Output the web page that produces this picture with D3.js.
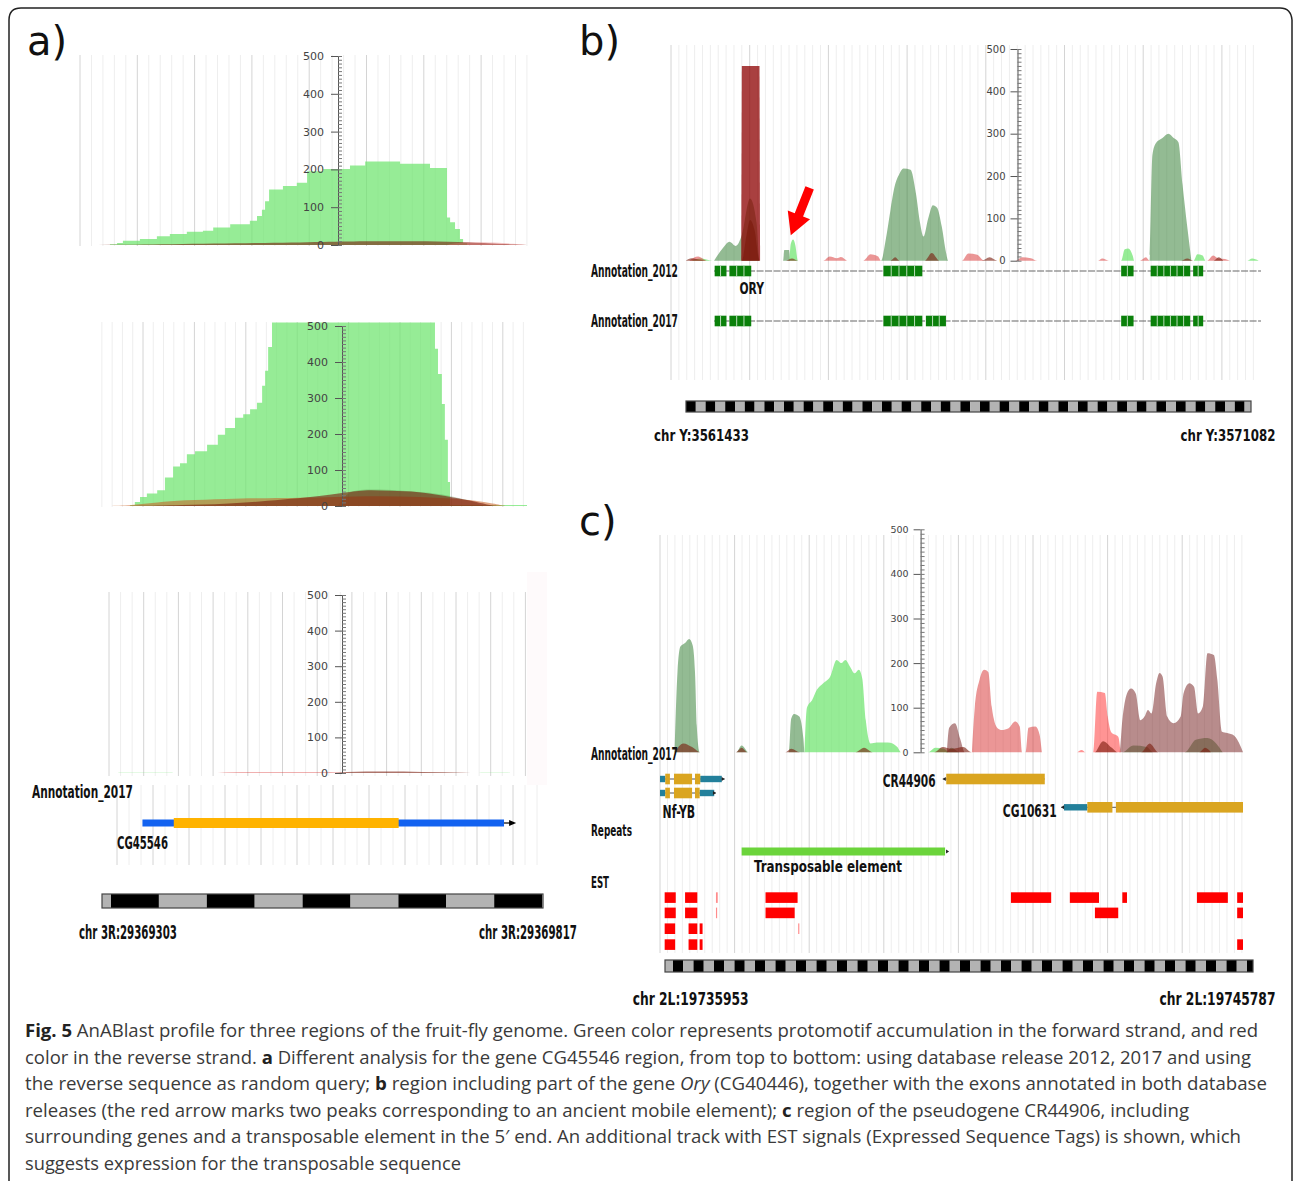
<!DOCTYPE html>
<html>
<head>
<meta charset="utf-8">
<script src="https://cdn.jsdelivr.net/npm/d3@7"></script>
<style>
  body { margin: 0; background: #fff; }
  svg { display: block; }
</style>
</head>
<body>
<svg id="fig" width="1293" height="1181"></svg>
<script>
// ---- data: positions are % along each track, values are protomotif counts ----

// panel a, top (release 2012)
const a1Green = [[0,0],[6.7,2],[8.3,5],[9.6,11],[13.4,16],[17.2,23],[20.1,29],[23.9,35],[27.5,38],[29.8,46],[33.6,55],[38.0,64],[39.6,77],[40.7,93],[41.4,116],[42.3,147],[45.4,156],[48.5,165],[50.8,195],[54.4,201],[60.4,210],[63.8,221],[71.6,215],[78.3,204],[82.1,73],[82.8,60],[83.9,42],[85.0,16],[85.7,5],[86.6,0],[100,0]]
const a1Brown = [[4,0],[20,2],[40,5],[55,8],[65,10],[75,10],[85,8],[92,4],[100,0]]
const a1Pink = [[82,0],[85,8],[93,7],[97,3],[100,0]]

// panel a, middle (release 2017)
const a2Green = [[0,0],[7.7,3],[8.8,11],[10.0,25],[11.6,35],[14.0,44],[15.8,79],[17.7,110],[19.3,119],[20.9,144],[22.8,152],[25.6,170],[28.1,198],[29.8,217],[32.1,245],[34.0,255],[35.6,269],[37.2,287],[38.4,334],[39.1,376],[39.8,442],[40.7,510],[78.6,437],[79.3,367],[80.2,283],[80.9,184],[81.6,67],[82.1,3],[100,0]]
const a2Orange = [[2,0],[8,2],[14,10],[20,16],[30,20],[40,22],[47,23],[55,25],[65,28],[75,26],[85,20],[92,8],[95,0]]
const a2Brown = [[8,0],[20,3],[30,6],[38,12],[45,20],[52,28],[57,36],[62,45],[68,42],[75,40],[81,28],[87,15],[91,3],[93,0]]
const a2DarkGreen = [[56,0],[58,38],[62,48],[70,44],[80,35],[86,18],[90,0]]

// panel a, bottom (reverse sequence)
const a3Green = [[2,0],[3,1],[15,1],[16,0],[88,0],[89,1],[95,1],[96,0]]
const a3Red = [[26,0],[28,1.5],[50,2],[56,1],[58,0]]
const a3Brown = [[54,0],[57,3],[66,4],[75,3],[85,1],[88,0]]

// panel a gene CG45546
const aGeneUTR = [8.0, 94.5]
const aGeneCDS = [15.5, 69.3]
const aGeneArrowEnd = 97.4

// panel b profile
const bDarkGreen = [[7.3,0],[8.8,30],[9.9,45],[11.0,35],[12.0,60],[13.4,147],[14.5,90],[15.0,0],[19.0,0],[19.2,25],[20.0,25],[20.2,0],[35.6,0],[36.4,50],[37.2,120],[37.9,175],[38.7,205],[39.4,218],[40.6,215],[41.5,160],[42.2,90],[42.8,57],[43.6,100],[44.4,131],[45.1,125],[45.9,80],[46.6,20],[47.0,0],[81.1,0],[81.6,250],[82.2,278],[83.3,290],[84.3,300],[85.2,290],[86.0,280],[86.7,180],[87.5,80],[88.2,0]]
const bLightGreen = [[3.5,0],[5,5],[7,0],[20.0,0],[20.3,40],[20.7,50],[21.1,35],[21.5,0],[76.3,0],[76.9,27],[77.5,29],[78.3,10],[78.5,0],[88.6,0],[89.2,15],[90.1,12],[90.6,0],[97.7,0],[98.5,5],[99.6,0]]
const bBar = [[11.9,0],[12.0,460],[15.0,460],[15.1,0]]
const bRed = [[3.1,0],[4.6,10],[6.1,0],[25.8,0],[26.9,10],[28.1,6],[28.8,9],[30.0,0],[32.6,0],[33.8,15],[35.1,10],[35.6,0],[49.3,0],[50.4,17],[51.9,14],[53.1,0],[58.4,0],[59.5,8],[61.0,6],[62.1,0],[72.4,0],[73.1,5],[74.2,0],[79.5,0],[80.5,8],[81.1,0],[90.9,0],[91.9,12],[92.8,5],[93.9,4],[94.7,0]]
const bBrown = [[2.5,0],[3.5,6],[5,2],[6,0],[12.0,0],[12.8,60],[13.4,96],[14.2,70],[15.0,0],[19.5,0],[20.5,5],[21.5,0],[37.2,0],[38.0,8],[38.7,0],[43.0,0],[44.2,18],[45.5,0],[52.7,0],[54.0,8],[55.3,0],[86.5,0],[87.5,5],[88.5,0],[92,0],[92.8,8],[93.6,0]]
const bArrowFrom = [23.5, 172]
const bArrowTo = [20.3, 60]

// panel b exons [start, end, sub-blocks]
const bExons2012 = [[7.4,9.4,2],[9.9,13.6,3],[36.0,42.6,5],[76.3,78.4,2],[81.3,88.0,6],[88.5,90.2,2]]
const bExons2017 = [[7.4,9.4,2],[9.9,13.6,3],[36.0,42.6,5],[43.2,46.6,3],[76.3,78.4,2],[81.3,88.0,6],[88.5,90.2,2]]
const bIntron = [7.3, 100]

// panel c profile
const cDarkGreen = [[2.5,0],[3.0,180],[3.5,237],[4.3,245],[5.0,254],[5.6,240],[6.0,180],[6.3,60],[6.8,0],[13.1,0],[14.0,15],[15.2,0],[22.1,0],[22.5,75],[23.0,86],[23.9,80],[24.6,30],[24.8,0],[49.0,0],[50.0,10],[51.4,0],[79.3,0],[81.2,15],[83.5,12],[84.6,0],[90.0,0],[91.9,28],[93.9,32],[95.4,20],[96.5,0]]
const cLightGreen = [[24.8,0],[25.2,100],[26.1,117],[26.9,140],[28.0,155],[29.2,170],[30.3,207],[31.1,200],[31.8,207],[32.6,192],[33.4,177],[34.1,185],[34.7,165],[35.3,72],[36.1,20],[37.2,22],[39.1,22],[40.7,12],[41.4,0],[46.0,0],[47.2,10],[48.7,8],[49.4,0]]
const cRosy = [[49.2,0],[49.6,55],[50.6,65],[51.5,30],[52.3,0],[78.8,0],[79.3,72],[80.1,132],[80.8,143],[81.6,132],[82.4,72],[83.1,80],[83.7,95],[84.3,87],[85.1,155],[85.7,178],[86.2,170],[87.0,80],[88.1,65],[89.3,80],[89.8,132],[90.8,155],[91.6,147],[92.3,87],[93.1,102],[93.9,222],[95.0,218],[95.6,162],[96.4,46],[97.3,43],[98.5,37],[99.6,13],[100,0]]
const cRed = [[53.5,0],[54.0,102],[54.8,162],[55.6,185],[56.3,180],[56.9,102],[57.9,54],[58.6,50],[59.8,54],[60.9,69],[61.7,58],[62.1,0],[62.7,0],[63.2,55],[64.4,58],[65.1,40],[65.5,0]]
const cSalmon = [[71.6,0],[72.3,5],[73,0],[74.3,0],[75.0,136],[76.3,133],[76.8,80],[77.4,45],[78.6,35],[79.0,0]]
const cBrown = [[2.5,0],[4,20],[5.5,12],[7,0],[13,0],[14,10],[15,0],[21.5,0],[22.5,8],[24,0],[33.5,0],[35,10],[36.5,0],[47,0],[48.5,12],[50,8],[52,12],[53.5,0],[74.5,0],[76,25],[77.5,10],[78.5,0],[82.5,0],[84,20],[85.5,0],[92.5,0],[93.5,10],[94.5,0]]

// panel c gene models: line span, UTRs, CDS, strand
const cGenes = [
  {name: 'Nf-YB r1', row: 0, line: [0, 11.1], utr: [[0,0.9],[6.9,10.6]], cds: [[0.9,1.7],[2.4,5.5],[6.0,6.9]], strand: 1},
  {name: 'Nf-YB r2', row: 1, line: [0, 9.6], utr: [[0,0.9],[6.8,9.3]], cds: [[0.9,1.7],[2.4,5.5],[6.0,6.8]], strand: 1},
  {name: 'CR44906', row: 0, line: [48.5, 66.0], utr: [], cds: [[49.1,66.0]], strand: -1},
  {name: 'CG10631', row: 2, line: [68.8, 100], utr: [[69.3,73.3]], cds: [[73.3,77.6],[78.2,100]], strand: -1}
]
const cRepeat = [14.0, 48.9]
const cEstRows = [
  [[0.8,2.7],[4.3,6.4],[9.6,9.9],[18.1,23.6],[60.2,67.1],[70.3,75.3],[79.3,80.1],[92.1,97.4],[99.0,100]],
  [[0.8,2.7],[4.3,6.4],[9.6,9.8],[18.1,23.1],[74.6,78.6],[99.0,100]],
  [[0.8,2.6],[4.9,6.4],[6.8,7.3],[23.7,23.9]],
  [[0.8,2.6],[4.9,6.4],[6.8,7.3],[99.0,100]]
]

const yTicks = [0, 100, 200, 300, 400, 500]

const captionLines = [
  [['Fig. 5','b'],[' AnABlast profile for three regions of the fruit-fly genome. Green color represents protomotif accumulation in the forward strand, and red','n']],
  [['color in the reverse strand. ','n'],['a','b'],[' Different analysis for the gene CG45546 region, from top to bottom: using database release 2012, 2017 and using','n']],
  [['the reverse sequence as random query; ','n'],['b','b'],[' region including part of the gene ','n'],['Ory','i'],[' (CG40446), together with the exons annotated in both database','n']],
  [['releases (the red arrow marks two peaks corresponding to an ancient mobile element); ','n'],['c','b'],[' region of the pseudogene CR44906, including','n']],
  [['surrounding genes and a transposable element in the 5\u2032 end. An additional track with EST signals (Expressed Sequence Tags) is shown, which','n']],
  [['suggests expression for the transposable sequence','n']]
]
const captionWidths = [1233, 1226, 1242, 1164, 1216, 436]

// ---- drawing ----
const svg = d3.select('#fig')

// outer frame with rounded top corners
svg.append('path')
  .attr('d', 'M9,1185 V20 Q9,8 21,8 H1280 Q1291,8 1292,20 V1185')
  .attr('fill', 'none').attr('stroke', '#222').attr('stroke-width', 1.5)

const colors = {
  green: ['rgb(110,228,110)', 0.72],
  dgreen: ['rgb(40,120,40)', 0.5],
  tint: ['rgb(60,110,40)', 0.25],
  brown: ['rgb(120,25,10)', 0.6],
  orange: ['rgb(200,95,35)', 0.55],
  pink: ['rgb(225,110,110)', 0.4],
  red: ['rgb(215,45,45)', 0.5],
  bar: ['rgb(140,0,0)', 0.75],
  rosy: ['rgb(125,45,45)', 0.55],
  salmon: ['rgb(255,60,60)', 0.55]
}

function drawGrid(g, x0, x1, yTop, yBot, major, sub, off) {
  let step = major / sub
  let start = x0 + off - Math.floor(off / step + 1e-6) * step
  let xs = d3.range(start, x1 + 0.1, step)
  g.append('g').selectAll('line').data(xs).join('line')
    .attr('x1', d => d).attr('x2', d => d)
    .attr('y1', yTop).attr('y2', yBot)
    .attr('stroke', d => {
      let k = (d - x0 - off) / major
      return Math.abs(k - Math.round(k)) < 0.02 ? '#d4d4d4' : '#eeeeee'
    })
    .attr('stroke-width', 1)
}

function drawSeries(g, x, y, pts, col, curve) {
  g.append('path').datum(pts)
    .attr('d', d3.area().x(d => x(d[0])).y0(y(0)).y1(d => y(d[1])).curve(curve || d3.curveMonotoneX))
    .attr('fill', colors[col][0]).attr('fill-opacity', colors[col][1])
}

function drawAxis(g, y, ax, fs, pad) {
  let ga = g.append('g').attr('transform', `translate(${ax},0)`)
    .call(d3.axisLeft(y).tickValues(yTicks).tickSize(7).tickSizeOuter(0).tickPadding(pad))
  ga.attr('font-family', 'DejaVu Sans').attr('font-size', fs).attr('color', '#555')
  ga.selectAll('text').attr('fill', '#444')
  let gm = g.append('g').attr('transform', `translate(${ax},0)`)
    .call(d3.axisRight(y).tickValues(d3.range(0, 501, 10)).tickSize(4).tickSizeOuter(0).tickFormat(''))
  gm.attr('color', '#777')
  gm.select('.domain').remove()
}

function profile(cfg, series) {
  let g = svg.append('g')
  let x = d3.scaleLinear().domain([0, 100]).range([cfg.x0, cfg.x1])
  let y = d3.scaleLinear().domain([0, 500]).range([cfg.yBase, cfg.y500])
  drawGrid(g, cfg.x0, cfg.x1, cfg.gridTop, cfg.gridBot, cfg.major, cfg.sub, cfg.off)
  series.forEach(s => drawSeries(g, x, y, s[0], s[1], s[2]))
  drawAxis(g, y, cfg.axisX, cfg.fs, cfg.pad)
  return {x, y, g}
}

// condensed bold labels: measured, then squeezed horizontally to the wanted width
function label(txt, x, base, w, size) {
  let t = svg.append('text')
    .attr('x', 0).attr('y', 0)
    .attr('font-family', '"DejaVu Sans Condensed", "DejaVu Sans", sans-serif')
    .attr('font-weight', 'bold').attr('font-size', size)
    .attr('fill', '#111')
    .text(txt)
  let natural = t.node().getComputedTextLength()
  t.attr('transform', `translate(${x},${base}) scale(${w / natural},1)`)
}

function panelLetter(txt, x, base) {
  svg.append('text').attr('x', x).attr('y', base)
    .attr('font-family', 'DejaVu Sans').attr('font-size', 40).attr('fill', '#111')
    .text(txt)
}

function ruler(x0, x1, y, h, segW, firstW, firstBlack) {
  let edges = [x0, x0 + firstW]
  while (edges[edges.length - 1] + segW < x1 - 0.5) edges.push(edges[edges.length - 1] + segW)
  edges.push(x1)
  let segs = d3.pairs(edges)
  let g = svg.append('g')
  g.selectAll('rect').data(segs).join('rect')
    .attr('x', d => d[0]).attr('width', d => d[1] - d[0])
    .attr('y', y).attr('height', h)
    .attr('fill', (d, i) => ((i % 2 === 0) === firstBlack) ? '#000' : '#b3b3b3')
  g.append('rect').attr('x', x0).attr('y', y).attr('width', x1 - x0).attr('height', h)
    .attr('fill', 'none').attr('stroke', '#444').attr('stroke-width', 1.2)
}

// ---------- panel a ----------
panelLetter('a)', 27, 55)

profile({x0: 80, x1: 527, yBase: 245, y500: 56, axisX: 338, gridTop: 55, gridBot: 246, major: 57.3, sub: 5, off: 0, fs: 11, pad: 7},
  [[a1Green, 'green', d3.curveStepAfter], [a1Brown, 'brown', d3.curveBasis], [a1Pink, 'pink', d3.curveBasis]])

profile({x0: 97, x1: 527, yBase: 506, y500: 326, axisX: 342, gridTop: 322, gridBot: 507, major: 51.4, sub: 5, off: 46, fs: 11, pad: 7},
  [[a2Green, 'green', d3.curveStepAfter], [a2DarkGreen, 'tint', d3.curveBasis], [a2Orange, 'orange', d3.curveBasis], [a2Brown, 'brown', d3.curveBasis]])

svg.append('rect').attr('x', 527).attr('y', 572).attr('width', 20).attr('height', 213).attr('fill', '#fefafb')
const a3 = profile({x0: 109, x1: 527, yBase: 773, y500: 595, axisX: 342, gridTop: 592, gridBot: 776, major: 34.7, sub: 3, off: 0, fs: 11, pad: 7},
  [[a3Green, 'green'], [a3Red, 'red'], [a3Brown, 'brown']])

// annotation track a
drawGrid(svg.append('g'), 117, 537, 785, 865, 36, 3, 0)
label('Annotation_2017', 32, 798, 101, 18)
svg.append('rect').attr('x', a3.x(aGeneUTR[0])).attr('width', a3.x(aGeneUTR[1]) - a3.x(aGeneUTR[0]))
  .attr('y', 819.5).attr('height', 7).attr('fill', '#1262f0')
svg.append('rect').attr('x', a3.x(aGeneCDS[0])).attr('width', a3.x(aGeneCDS[1]) - a3.x(aGeneCDS[0]))
  .attr('y', 818).attr('height', 10).attr('fill', '#ffb300')
svg.append('line').attr('x1', a3.x(aGeneUTR[1])).attr('x2', a3.x(aGeneArrowEnd) - 5)
  .attr('y1', 823).attr('y2', 823).attr('stroke', '#000').attr('stroke-width', 1.2)
svg.append('path').attr('d', d3.line()([[a3.x(aGeneArrowEnd) - 7, 820], [a3.x(aGeneArrowEnd), 823], [a3.x(aGeneArrowEnd) - 7, 826]])).attr('fill', '#000')
label('CG45546', 117, 849, 51, 17)

ruler(102, 543, 894, 14, 47.9, 9, false)
label('chr 3R:29369303', 79, 939, 98, 19)
label('chr 3R:29369817', 479, 939, 98, 19)

// ---------- panel b ----------
panelLetter('b)', 579, 55)
const pb = profile({x0: 671, x1: 1261, yBase: 260.7, y500: 49, axisX: 1017.5, gridTop: 45, gridBot: 380, major: 78.7, sub: 10, off: 0, fs: 10, pad: 5},
  [[bDarkGreen, 'dgreen'], [bLightGreen, 'green'], [bRed, 'red'], [bBar, 'bar', d3.curveLinear], [bBrown, 'brown']])

// red arrow
{
  let p0 = [pb.x(bArrowFrom[0]), pb.y(bArrowFrom[1])]
  let p1 = [pb.x(bArrowTo[0]), pb.y(bArrowTo[1])]
  let dx = p1[0] - p0[0], dy = p1[1] - p0[1], L = Math.hypot(dx, dy)
  let ux = dx / L, uy = dy / L, nx = -uy, ny = ux
  let hl = 22, sw = 4.5, hw = 12
  let b = [p1[0] - ux * hl, p1[1] - uy * hl]
  let pts = [
    [p0[0] + nx * sw, p0[1] + ny * sw], [b[0] + nx * sw, b[1] + ny * sw], [b[0] + nx * hw, b[1] + ny * hw],
    p1, [b[0] - nx * hw, b[1] - ny * hw], [b[0] - nx * sw, b[1] - ny * sw], [p0[0] - nx * sw, p0[1] - ny * sw]
  ]
  svg.append('path').attr('d', d3.line()(pts) + 'Z').attr('fill', '#ff0000')
}

function exonTrack(x, exons, intron, yc) {
  let g = svg.append('g')
  g.append('line').attr('x1', x(intron[0])).attr('x2', x(intron[1])).attr('y1', yc).attr('y2', yc)
    .attr('stroke', '#666').attr('stroke-width', 1.2).attr('stroke-dasharray', '7,1.5')
  exons.forEach(e => {
    g.append('rect').attr('x', x(e[0])).attr('width', x(e[1]) - x(e[0])).attr('y', yc - 5.3).attr('height', 10.6).attr('fill', '#0a800a')
    d3.range(1, e[2]).forEach(k => {
      let xx = x(e[0] + (e[1] - e[0]) * k / e[2])
      g.append('line').attr('x1', xx).attr('x2', xx).attr('y1', yc - 5.3).attr('y2', yc + 5.3).attr('stroke', '#b9dcb9').attr('stroke-width', 1)
    })
  })
}
exonTrack(pb.x, bExons2012, bIntron, 271)
exonTrack(pb.x, bExons2017, bIntron, 321)
label('Annotation_2012', 591, 277, 87, 18)
label('ORY', 739.5, 294, 24.5, 15)
label('Annotation_2017', 591, 327, 87, 18)

ruler(686, 1251, 401, 11, 9.8, 9.8, true)
label('chr Y:3561433', 654, 441, 95, 16.5)
label('chr Y:3571082', 1180.5, 441, 95, 16.5)

// ---------- panel c ----------
panelLetter('c)', 579, 535)
const pc = profile({x0: 660, x1: 1243, yBase: 752.3, y500: 529.3, axisX: 920.6, gridTop: 535, gridBot: 953, major: 74.6, sub: 10, off: 0, fs: 9.5, pad: 5},
  [[cDarkGreen, 'dgreen'], [cLightGreen, 'green'], [cRosy, 'rosy'], [cRed, 'red'], [cSalmon, 'salmon'], [cBrown, 'brown']])

label('Annotation_2017', 591, 760, 87, 18)

const geneRowY = [779, 793, 807.3]
cGenes.forEach(gn => {
  let yc = geneRowY[gn.row], x = pc.x
  svg.append('line').attr('x1', x(gn.line[0])).attr('x2', x(gn.line[1])).attr('y1', yc).attr('y2', yc)
    .attr('stroke', '#555').attr('stroke-width', 1)
  gn.utr.forEach(u => svg.append('rect').attr('x', x(u[0])).attr('width', x(u[1]) - x(u[0])).attr('y', yc - 3.2).attr('height', 6.4).attr('fill', '#23809b'))
  gn.cds.forEach(u => svg.append('rect').attr('x', x(u[0])).attr('width', x(u[1]) - x(u[0])).attr('y', yc - 5.3).attr('height', 10.6).attr('fill', '#daa520'))
  let tip = gn.strand > 0 ? x(gn.line[1]) : x(gn.line[0])
  svg.append('path').attr('d', d3.line()([[tip - 3 * gn.strand, yc - 2], [tip, yc], [tip - 3 * gn.strand, yc + 2]])).attr('fill', '#222')
})
label('CR44906', 882.7, 787, 53, 17)
label('Nf-YB', 662.6, 818, 32.6, 18)
label('CG10631', 1002.8, 816.5, 54, 18)
label('Repeats', 591, 836, 41, 16)

svg.append('rect').attr('x', pc.x(cRepeat[0])).attr('width', pc.x(cRepeat[1]) - pc.x(cRepeat[0]))
  .attr('y', 847.5).attr('height', 8).attr('fill', '#6bd43b')
svg.append('path').attr('d', d3.line()([[pc.x(cRepeat[1]) + 1, 849.5], [pc.x(cRepeat[1]) + 4, 851.5], [pc.x(cRepeat[1]) + 1, 853.5]])).attr('fill', '#222')
label('Transposable element', 754, 871.7, 148, 16)
label('EST', 591, 888, 18, 16)

const estRowTop = [892.3, 907.6, 923.4, 939.3]
cEstRows.forEach((row, r) => {
  svg.append('g').selectAll('rect').data(row).join('rect')
    .attr('x', d => pc.x(d[0])).attr('width', d => Math.max(1, pc.x(d[1]) - pc.x(d[0])))
    .attr('y', estRowTop[r]).attr('height', 10.6)
    .attr('fill', '#ff0000')
    .attr('fill-opacity', d => (pc.x(d[1]) - pc.x(d[0])) < 2 ? 0.45 : 1)
})

ruler(665, 1253, 960, 12, 10.25, 8, false)
label('chr 2L:19735953', 632.7, 1005, 116, 17)
label('chr 2L:19745787', 1159.5, 1005, 116, 17)

// ---------- caption ----------
const cap = svg.append('g')
captionLines.forEach((line, i) => {
  let t = cap.append('text').attr('x', 25).attr('y', 1037 + i * 26.6)
    .attr('font-family', '"Open Sans", "Noto Sans", sans-serif').attr('font-size', 18.5)
    .attr('fill', '#3a3a3a')
    .attr('textLength', captionWidths[i]).attr('lengthAdjust', 'spacingAndGlyphs')
  line.forEach(seg => {
    let ts = t.append('tspan').text(seg[0])
    if (seg[1] === 'b') ts.attr('font-weight', 'bold').attr('fill', '#222')
    if (seg[1] === 'i') ts.attr('font-style', 'italic')
  })
})
</script>
</body>
</html>
